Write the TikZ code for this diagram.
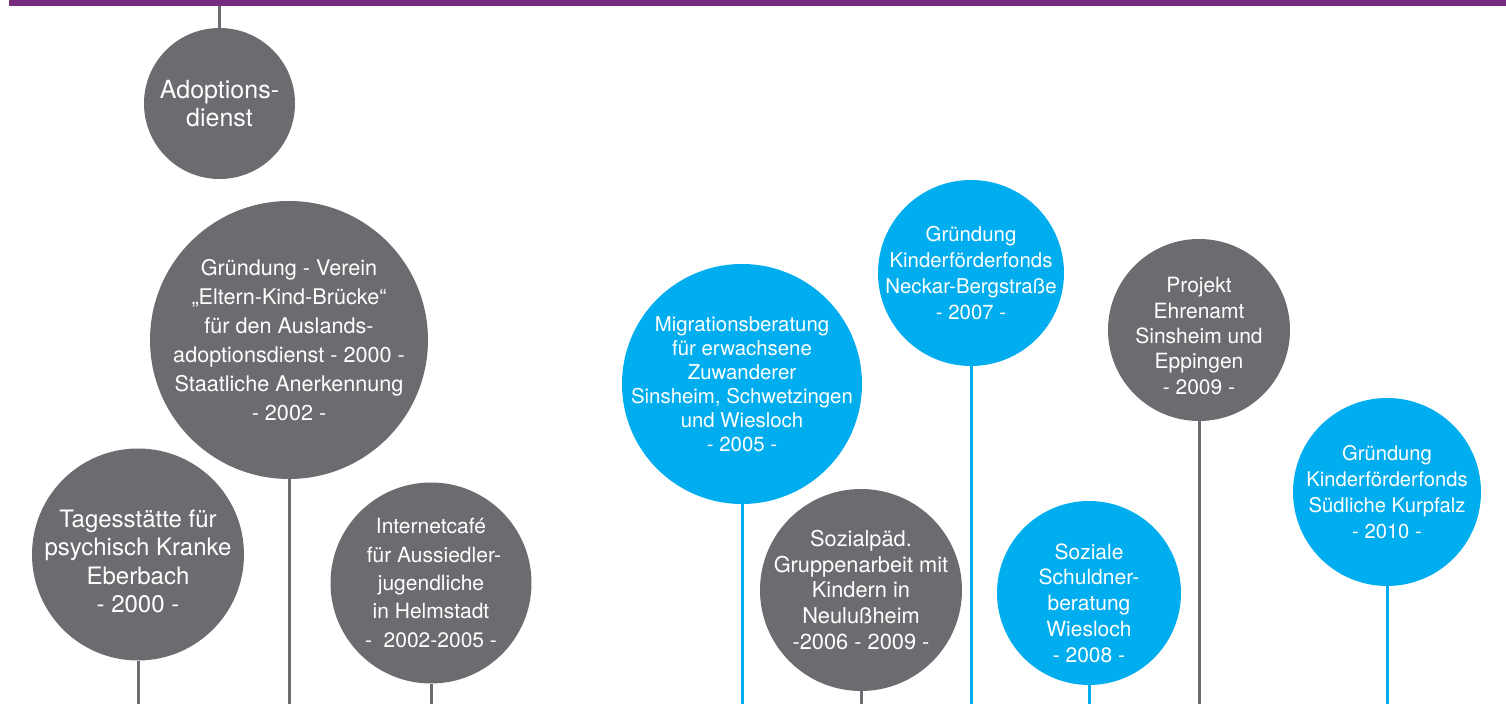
\documentclass[tikz,border=0pt]{standalone}
\usepackage{fontspec}
\setmainfont{TeX Gyre Heros}
\usetikzlibrary{positioning}
\definecolor{barPurple}{HTML}{762C7E}
\definecolor{bubbleGrey}{HTML}{6B6C6F}
\definecolor{bubbleBlue}{HTML}{00AEEF}
\tikzset{
	bubble/.style={circle,inner sep=0pt,minimum size=#1},
	greyBubble/.style={bubble=#1,fill=bubbleGrey},
	blueBubble/.style={bubble=#1,fill=bubbleBlue},
	bubbleText/.style={text=white,align=center,inner sep=0pt,font=\fontsize{10.5}{13}\selectfont},
	greyStem/.style={draw=bubbleGrey,line width=1.5pt},
	blueStem/.style={draw=bubbleBlue,line width=1.5pt},
}

\begin{document}
\begin{tikzpicture}[x=0.5pt,y=-0.5pt]
	\useasboundingbox (0,0) rectangle (1506,704);
	\fill[barPurple] (9,0) rectangle (1506,6);
	\coordinate (barLine) at (219.5,6);
	\coordinate (baseLine) at (0,704);
	% grey bubbles
	\node[greyBubble=75.5pt] (adop) at (219.5,103.5) {};
	\node[greyBubble=139pt] (verein) at (289,340) {};
	\node[greyBubble=106pt] (tag) at (138,554.5) {};
	\node[greyBubble=100.5pt] (inet) at (431,583) {};
	\node[greyBubble=101pt] (sozpaed) at (861,590) {};
	\node[greyBubble=91pt] (projekt) at (1199,330) {};
	% blue bubbles
	\node[blueBubble=120pt] (migr) at (742,384) {};
	\node[blueBubble=93pt] (neckar) at (971,273) {};
	\node[blueBubble=92pt] (schuld) at (1089,593) {};
	\node[blueBubble=94pt] (sued) at (1387,492) {};
	% texts
	\node[bubbleText,font=\fontsize{12.5}{14}\selectfont] (adopText) at (adop) {Adoptions-\\dienst};
	\node[bubbleText,font=\fontsize{10.8}{14.5}\selectfont] (vereinText) at (verein) {Gründung - Verein\\„Eltern-Kind-Brücke“\\für den Auslands-\\adoptionsdienst - 2000 -\\Staatliche Anerkennung\\- 2002 -};
	\node[bubbleText,font=\fontsize{12}{14.2}\selectfont,yshift=-3.5pt] (tagText) at (tag) {Tagesstätte für\\psychisch Kranke\\Eberbach\\- 2000 -};
	\node[bubbleText,font=\fontsize{10.5}{14.2}\selectfont] (inetText) at (inet) {Internetcafé\\\ für Aussiedler-\\jugendliche\\in Helmstadt\\-\ \ 2002-2005 -};
	\node[bubbleText,font=\fontsize{10.9}{12.8}\selectfont] (sozpaedText) at (sozpaed) {Sozialpäd.\\Gruppenarbeit mit\\Kindern in\\Neulußheim\\-2006 - 2009 -};
	\node[bubbleText,font=\fontsize{10.5}{12.7}\selectfont,yshift=-3pt] (projektText) at (projekt) {Projekt\\Ehrenamt\\Sinsheim und\\Eppingen\\- 2009 -};
	\node[bubbleText,font=\fontsize{10.2}{12}\selectfont] (migrText) at (migr) {Migrationsberatung\\für erwachsene\\Zuwanderer\\Sinsheim, Schwetzingen\\und Wiesloch\\- 2005 -};
	\node[bubbleText,font=\fontsize{10.2}{13}\selectfont] (neckarText) at (neckar) {Gründung\\Kinderförderfonds\\Neckar-Bergstraße\\- 2007 -};
	\node[bubbleText,font=\fontsize{10.5}{12.9}\selectfont,yshift=-5pt] (schuldText) at (schuld) {Soziale\\Schuldner-\\beratung\\Wiesloch\\- 2008 -};
	\node[bubbleText,font=\fontsize{10.1}{13}\selectfont] (suedText) at (sued) {Gründung\\Kinderförderfonds\\Südliche Kurpfalz\\- 2010 -};
	% stems
	\draw[greyStem] (barLine) -- (adop.north);
	\foreach \n in {tag,verein,inet,sozpaed,projekt}
		\draw[greyStem] (\n.south) -- (\n.south |- baseLine);
	\foreach \n in {migr,neckar,schuld,sued}
		\draw[blueStem] (\n.south) -- (\n.south |- baseLine);
\end{tikzpicture}
\end{document}
